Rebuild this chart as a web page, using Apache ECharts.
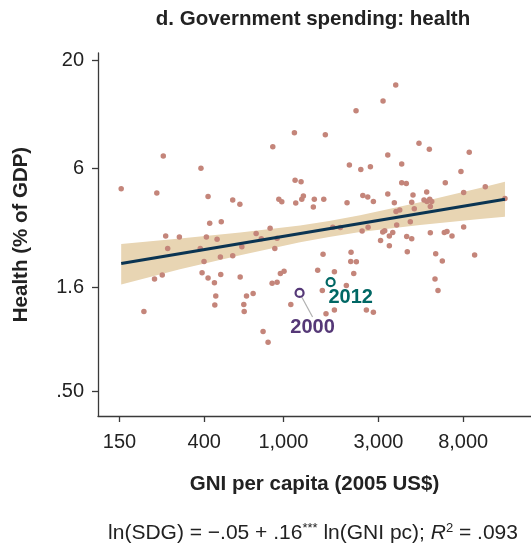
<!DOCTYPE html>
<html><head><meta charset="utf-8">
<script src="https://cdn.jsdelivr.net/npm/echarts@6/dist/echarts.min.js"></script>
<style>html,body{margin:0;padding:0;background:#fff}#c{width:531px;height:548px}</style>
</head><body><div id="c"></div>
<script>
// ---- data (GNI per capita in 2005 US$, health spending in % of GDP) ----
const gni = [153,249,231,385,418,556,604,426,487,256,300,410,464,729,857,774,929,884,1135,1144,
  1226,948,981,1153,1236,1259,3665,3165,2316,1623,4797,5406,8580,3343,2144,2447,2734,3928,7796,1429,
  1594,1413,2087,2505,2652,2830,3343,3928,4142,6503,10330,8043,4476,5245,3606,3839,3678,4410,4544,5084,
  5263,5431,5558,5469,12970,4339,3707,1770,1932,2662,2484,3154,3227,3541,3404,5469,6429,6632,7028,8043,
  4161,4410,3075,3404,4190,5820,6283,9132,1581,2186,2178,2324,1486,1803,2255,5774,5977,1568,2070,1636,
  1803,2610,2830,262,382,618,905,482,556,399,390,418,450,484,606,225,246,965,1007,877,
  929,199,457,452,652,704,632,635,1089,790,837];
const health = [4.78,6.90,4.56,6.02,4.39,4.22,4.03,3.26,3.31,2.83,2.80,2.80,2.73,2.91,3.08,2.74,2.76,7.63,8.92,5.26,
  5.18,4.26,4.14,4.08,4.26,4.42,15.2,12.7,11.4,8.72,7.95,7.44,7.19,6.96,6.24,5.93,6.11,6.31,5.80,4.26,
  4.26,3.91,4.09,4.44,4.37,4.15,4.51,5.11,5.07,5.12,4.90,4.59,4.47,4.61,4.10,3.78,3.71,4.12,3.83,4.22,
  4.15,4.26,4.15,3.93,4.29,3.31,3.20,3.12,3.11,3.12,2.99,2.96,3.00,2.94,2.83,2.93,2.94,2.97,2.83,3.13,
  2.81,2.74,2.69,2.54,2.37,2.32,2.14,2.29,2.31,2.36,2.13,2.12,1.93,1.90,1.86,1.75,1.54,1.54,1.63,1.19,
  1.24,1.24,1.21,2.46,2.46,2.51,2.46,2.24,2.27,2.13,1.88,1.77,1.68,1.84,1.79,1.75,1.83,1.86,1.91,1.67,
  1.69,1.22,1.45,1.31,1.45,1.49,1.32,1.22,1.32,0.975,0.867];
const highlightYears = ['2000', '2012'];
const highlightGni = [1205, 1726];
const highlightHealth = [1.50, 1.69];
const fitGni = [153, 12970];
const fitHealth = [2.08, 4.26];
const bandGni = [153, 302, 606, 1212, 1696, 2427, 4855, 9713, 12970];
const bandLow = [1.65, 1.95, 2.28, 2.64, 2.80, 2.96, 3.20, 3.42, 3.50];
const bandHigh = [2.59, 2.75, 2.94, 3.18, 3.34, 3.56, 4.12, 4.83, 5.17];
const xTicks = [150, 400, 1000, 3000, 8000];
const xTickLabels = ['150', '400', '1,000', '3,000', '8,000'];
const yTicks = [20, 6, 1.6, 0.5];
const yTickLabels = ['20', '6', '1.6', '.50'];
const xRange = [117, 17530];
const yRange = [0.381, 21.7];

// ---- chart ----
const L = Math.log;
const FONT = '"Liberation Sans", Arial, Helvetica, sans-serif';
const TXT = '#222222';
const AX = '#3a3a3a';
function tickFmt(ticks, labels) {
  return function (v) {
    let best = 0, d = Infinity;
    ticks.forEach((t, i) => { const dd = Math.abs(L(t) - v); if (dd < d) { d = dd; best = i; } });
    return labels[best];
  };
}
const chart = echarts.init(document.getElementById('c'), null, { renderer: 'canvas' });
const purple = '#553877';
const teal = '#006764';
chart.setOption({
  animation: false,
  backgroundColor: '#fff',
  textStyle: { fontFamily: FONT },
  grid: { left: 98, right: 0, top: 53, bottom: 132, containLabel: false },
  xAxis: {
    type: 'value', min: L(xRange[0]), max: L(xRange[1]),
    name: 'GNI per capita (2005 US$)', nameLocation: 'middle', nameGap: 58,
    nameTextStyle: { fontFamily: FONT, fontSize: 20.5, fontWeight: 'bold', color: TXT },
    axisLine: { show: true, onZero: false, lineStyle: { color: AX, width: 1.3 } },
    axisTick: { show: true, length: 6, lineStyle: { color: AX, width: 1.3 }, customValues: xTicks.map(L) },
    axisLabel: { customValues: xTicks.map(L), formatter: tickFmt(xTicks, xTickLabels), fontFamily: FONT, fontSize: 20, color: TXT, margin: 16 },
    splitLine: { show: false }
  },
  yAxis: {
    type: 'value', min: L(yRange[0]), max: L(yRange[1]),
    name: 'Health (% of GDP)', nameLocation: 'middle', nameGap: 66,
    nameTextStyle: { fontFamily: FONT, fontSize: 20.5, fontWeight: 'bold', color: TXT },
    axisLine: { show: true, onZero: false, lineStyle: { color: AX, width: 1.3 } },
    axisTick: { show: true, length: 6, lineStyle: { color: AX, width: 1.3 }, customValues: yTicks.map(L) },
    axisLabel: { customValues: yTicks.map(L), formatter: tickFmt(yTicks, yTickLabels), fontFamily: FONT, fontSize: 20, color: TXT, margin: 14 },
    splitLine: { show: false }
  },
  graphic: [
    { type: 'text', x: 313, y: 19, style: { text: 'd. Government spending: health', fontFamily: FONT, fontSize: 20.5, fontWeight: 'bold', fill: TXT, align: 'center', verticalAlign: 'middle' } },
    { type: 'text', z: 10, x: 313, y: 533, style: {
        align: 'center', verticalAlign: 'middle',
        text: '{a|ln(SDG) = \u2212.05 + .16}{s|***}{a| ln(GNI pc); }{i|R}{s|2}{a| = .093}',
        rich: {
          a: { fontFamily: FONT, fontSize: 21, fill: TXT },
          i: { fontFamily: FONT, fontSize: 21, fontStyle: 'italic', fill: TXT },
          s: { fontFamily: FONT, fontSize: 13, fill: TXT, padding: [0, 0, 9, 0] }
        } } }
  ],
  series: [
    {
      type: 'custom', z: 1, silent: true,
      data: [[L(bandGni[0]), L(bandLow[0])]],
      renderItem: function (params, api) {
        const pts = [];
        for (let i = 0; i < bandGni.length; i++) pts.push(api.coord([L(bandGni[i]), L(bandHigh[i])]));
        for (let i = bandGni.length - 1; i >= 0; i--) pts.push(api.coord([L(bandGni[i]), L(bandLow[i])]));
        return { type: 'polygon', shape: { points: pts }, style: { fill: '#e8d5b3' } };
      }
    },
    {
      type: 'scatter', z: 2, symbol: 'circle', symbolSize: 5.5,
      itemStyle: { color: '#c4857a', opacity: 1 },
      data: gni.map((g, i) => [L(g), L(health[i])]),
      emphasis: { disabled: true }
    },
    {
      type: 'line', z: 3, symbol: 'none',
      lineStyle: { color: '#0a3452', width: 3 },
      data: fitGni.map((g, i) => [L(g), L(fitHealth[i])])
    },
    {
      type: 'scatter', z: 4, symbol: 'circle', symbolSize: 8,
      itemStyle: { color: '#fff', borderColor: purple, borderWidth: 2.2, opacity: 1 },
      data: [[L(highlightGni[0]), L(highlightHealth[0])]],
      label: { show: true, position: 'bottom', formatter: highlightYears[0], fontFamily: FONT, fontSize: 20, fontWeight: 'bold', color: purple },
      labelLayout: { dx: 13, dy: 14 },
      labelLine: { show: true, lineStyle: { color: '#b0b0b0', width: 1.2 } },
      emphasis: { disabled: true }
    },
    {
      type: 'scatter', z: 4, symbol: 'circle', symbolSize: 8,
      itemStyle: { color: '#fff', borderColor: teal, borderWidth: 2.2, opacity: 1 },
      data: [[L(highlightGni[1]), L(highlightHealth[1])]],
      label: { show: true, position: 'bottom', offset: [20, -5], formatter: highlightYears[1], fontFamily: FONT, fontSize: 20, fontWeight: 'bold', color: teal },
      emphasis: { disabled: true }
    }
  ]
});
</script>
</body></html>
